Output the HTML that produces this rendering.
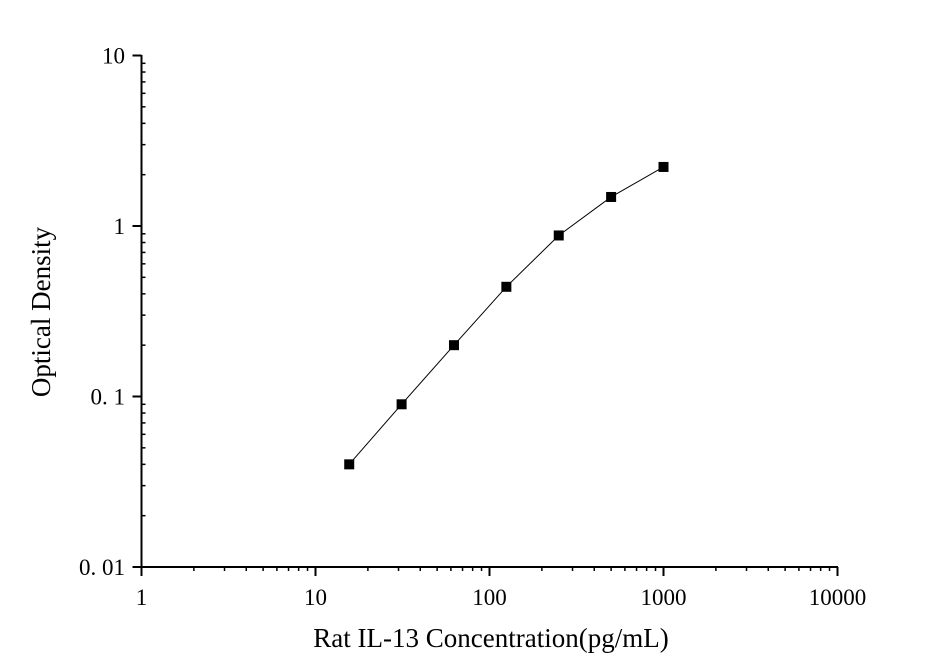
<!DOCTYPE html>
<html><head><meta charset="utf-8"><style>body{margin:0;background:#fff}svg{display:block}</style></head>
<body>
<svg id="s" width="935" height="668" xmlns="http://www.w3.org/2000/svg" font-family="Liberation Serif, serif"></svg>
<script>
const s=document.getElementById('s');
const X0=141.5,DX=174,Y0=567,DY=170.5;
const xp=v=>X0+Math.log10(v)*DX, yp=v=>Y0-(Math.log10(v)+2)*DY;
let h='';
h+=`<line x1="${X0}" y1="${Y0}" x2="838" y2="${Y0}" stroke="#000" stroke-width="2"/>`;
h+=`<line x1="${X0}" y1="${Y0}" x2="${X0}" y2="55" stroke="#000" stroke-width="2"/>`;
for(let d=0;d<4;d++)for(let m=2;m<10;m++){const x=xp(m*10**d);h+=`<line x1="${x}" y1="${Y0}" x2="${x}" y2="${Y0+4}" stroke="#000" stroke-width="1.5"/>`;}
for(let d=0;d<=4;d++){const x=xp(10**d);h+=`<line x1="${x}" y1="${Y0}" x2="${x}" y2="${Y0+9}" stroke="#000" stroke-width="2"/>`;
h+=`<text x="${x}" y="605" font-size="23" text-anchor="middle">${10**d}</text>`;}
for(let d=-2;d<1;d++)for(let m=2;m<10;m++){const y=yp(m*10**d);h+=`<line x1="${X0}" y1="${y}" x2="${X0+4}" y2="${y}" stroke="#000" stroke-width="1.5"/>`;}
const yl=['0. 01','0. 1','1','10'];
for(let d=-2;d<=1;d++){const y=yp(10**d);h+=`<line x1="${X0-9}" y1="${y}" x2="${X0}" y2="${y}" stroke="#000" stroke-width="2"/>`;
h+=`<text x="125" y="${y+8}" font-size="23" text-anchor="end">${yl[d+2]}</text>`;}
const pts=[[15.625,0.04],[31.25,0.09],[62.5,0.2],[125,0.44],[250,0.88],[500,1.48],[1000,2.22]];
h+=`<polyline fill="none" stroke="#000" stroke-width="1" points="${pts.map(p=>xp(p[0])+','+yp(p[1])).join(' ')}"/>`;
pts.forEach(p=>{h+=`<rect x="${xp(p[0])-5}" y="${yp(p[1])-5}" width="10" height="10" fill="#000"/>`;});
h+=`<text x="491" y="647" font-size="27" text-anchor="middle">Rat IL-13 Concentration(pg/mL)</text>`;
h+=`<text transform="translate(50,312) rotate(-90)" font-size="27" text-anchor="middle">Optical Density</text>`;
s.innerHTML=h;
</script>
</body></html>
